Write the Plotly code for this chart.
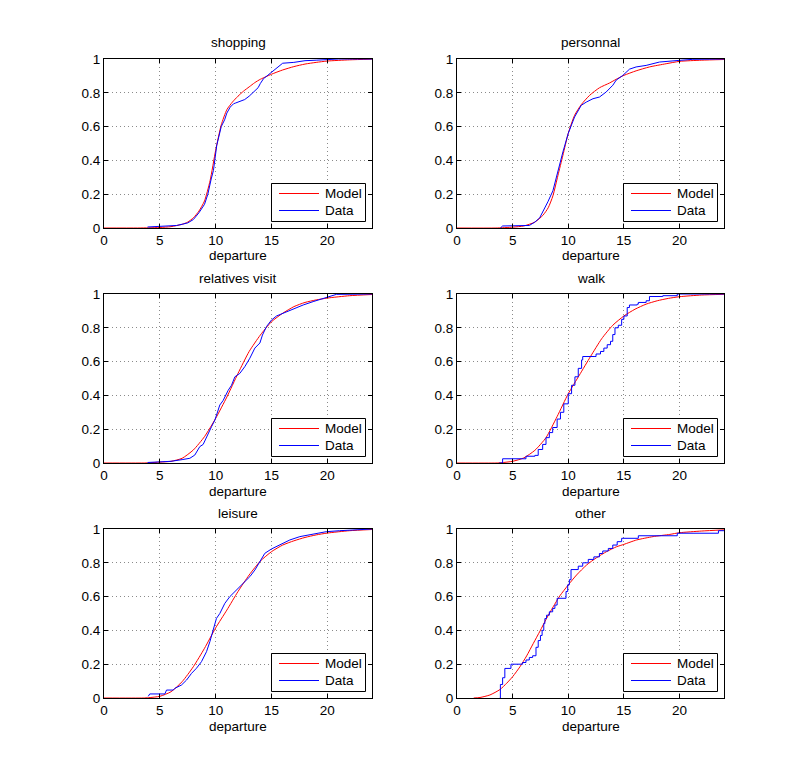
import plotly.graph_objects as go

# ---------------- data ----------------
titles = ["shopping", "personnal", "relatives visit", "walk", "leisure", "other"]
x_label = "departure"

shopping_model_x = [0, 3, 4, 5, 6, 7, 7.5, 8, 8.5, 9, 9.5, 10, 10.5, 11, 11.5, 12, 12.5, 13, 13.5, 14, 14.5, 15, 16, 17, 18, 19, 20, 22, 24]
shopping_model_y = [0, 0, 0.001, 0.003, 0.008, 0.022, 0.035, 0.06, 0.1, 0.16, 0.28, 0.46, 0.61, 0.7, 0.745, 0.78, 0.81, 0.835, 0.86, 0.88, 0.895, 0.91, 0.935, 0.955, 0.97, 0.98, 0.988, 0.995, 0.999]
shopping_data_x = [3.9, 5, 6, 6.5, 7, 7.5, 8, 8.5, 9, 9.3, 9.6, 9.8, 10.1, 10.3, 10.5, 10.8, 11, 11.3, 11.6, 11.8, 12.2, 12.6, 13, 13.4, 13.8, 14, 14.3, 14.6, 15, 15.5, 16, 17, 18, 19, 20, 21, 24]
shopping_data_y = [0.006, 0.008, 0.01, 0.015, 0.022, 0.03, 0.05, 0.09, 0.14, 0.2, 0.29, 0.34, 0.49, 0.55, 0.6, 0.64, 0.68, 0.715, 0.735, 0.74, 0.75, 0.76, 0.78, 0.805, 0.83, 0.855, 0.885, 0.9, 0.92, 0.95, 0.975, 0.98, 0.99, 0.993, 0.996, 1.0, 1.0]

personnal_model_x = [0, 3.5, 5, 6, 7, 7.72, 8.2, 8.62, 9.07, 9.52, 10, 10.57, 11.17, 11.92, 12.81, 13.71, 14.31, 15, 16.1, 17.3, 18.8, 20, 22, 24]
personnal_model_y = [0, 0, 0.005, 0.012, 0.035, 0.075, 0.12, 0.19, 0.31, 0.43, 0.56, 0.667, 0.73, 0.785, 0.83, 0.858, 0.88, 0.903, 0.93, 0.953, 0.972, 0.986, 0.993, 0.997]
personnal_data_x = [3.9, 4.1, 6.5, 7.0, 7.43, 7.72, 8.17, 8.62, 9.07, 9.52, 10, 10.57, 11.17, 11.62, 12.22, 12.81, 13.41, 14.01, 14.31, 14.91, 15.51, 16.1, 17.0, 18.2, 20, 21.2, 24]
personnal_data_y = [0.0, 0.012, 0.015, 0.035, 0.06, 0.095, 0.155, 0.22, 0.34, 0.45, 0.56, 0.657, 0.726, 0.745, 0.765, 0.775, 0.805, 0.845, 0.875, 0.903, 0.94, 0.953, 0.962, 0.982, 0.992, 0.998, 1.0]

relatives_model_x = [0, 3.5, 4, 5, 6, 7, 8, 9, 10, 11, 12, 13, 14, 15, 16, 17, 18, 19, 20, 22, 24]
relatives_model_y = [0, 0, 0.001, 0.005, 0.01, 0.028, 0.077, 0.156, 0.264, 0.39, 0.53, 0.66, 0.757, 0.836, 0.886, 0.925, 0.95, 0.965, 0.976, 0.99, 0.997]
relatives_data_x = [3.9, 5, 6, 7.0, 7.69, 8.13, 8.58, 8.88, 9.18, 9.63, 9.93, 10.37, 10.67, 11.12, 11.42, 11.72, 12.16, 12.61, 13.06, 13.51, 13.96, 14.19, 14.55, 15, 15.45, 16.04, 16.94, 17.84, 18.73, 19.33, 20.22, 20.82, 24]
relatives_data_y = [0.003, 0.006, 0.01, 0.02, 0.028, 0.047, 0.097, 0.11, 0.156, 0.215, 0.254, 0.343, 0.37, 0.43, 0.46, 0.51, 0.53, 0.57, 0.62, 0.68, 0.71, 0.757, 0.807, 0.846, 0.87, 0.886, 0.915, 0.935, 0.955, 0.968, 0.984, 0.998, 1.0]

walk_model_x = [0, 3.5, 4, 5, 6, 7, 8, 9, 10, 11, 12, 13, 14, 15, 16, 17, 18, 19, 20, 22, 24]
walk_model_y = [0, 0, 0.002, 0.01, 0.03, 0.075, 0.15, 0.275, 0.41, 0.52, 0.63, 0.735, 0.815, 0.87, 0.91, 0.94, 0.96, 0.974, 0.984, 0.994, 0.998]
walk_data_x = [3.8, 4.1, 6.2, 7.0, 7.3, 7.7, 8.0, 8.3, 8.6, 9.0, 9.3, 9.6, 10.0, 10.3, 10.6, 10.9, 11.2, 11.3, 12.4, 12.5, 12.9, 13.2, 13.5, 13.8, 14.0, 14.2, 14.5, 14.8, 15.0, 15.3, 15.5, 16.2, 16.3, 17.0, 17.3, 18.5, 19.8, 24]
walk_data_y = [0.0, 0.025, 0.04, 0.045, 0.08, 0.11, 0.15, 0.18, 0.21, 0.26, 0.3, 0.35, 0.41, 0.46, 0.51, 0.56, 0.61, 0.63, 0.63, 0.645, 0.66, 0.68, 0.7, 0.72, 0.76, 0.8, 0.815, 0.85, 0.87, 0.92, 0.935, 0.94, 0.95, 0.96, 0.985, 0.99, 1.0, 1.0]

leisure_model_x = [0, 3.5, 4, 5, 6, 7, 8, 9, 10, 11, 12, 13, 14, 15, 16, 17, 18, 19, 20, 22, 24]
leisure_model_y = [0, 0, 0.002, 0.01, 0.037, 0.097, 0.185, 0.294, 0.415, 0.52, 0.63, 0.728, 0.81, 0.866, 0.905, 0.93, 0.95, 0.965, 0.976, 0.99, 0.997]
leisure_data_x = [3.96, 4.1, 5.45, 5.6, 6.2, 6.34, 6.94, 7.39, 7.84, 8.28, 8.73, 9.18, 9.48, 9.78, 10.07, 10.37, 10.82, 11.27, 11.72, 12.16, 12.61, 13.06, 13.51, 13.96, 14.4, 15, 15.75, 16.64, 17.54, 18.73, 19.9, 21.1, 24]
leisure_data_y = [0.01, 0.024, 0.024, 0.047, 0.047, 0.057, 0.077, 0.106, 0.146, 0.176, 0.215, 0.274, 0.333, 0.412, 0.471, 0.5, 0.56, 0.6, 0.63, 0.66, 0.69, 0.718, 0.757, 0.807, 0.856, 0.882, 0.905, 0.935, 0.955, 0.97, 0.984, 0.99, 1.0]

other_model_x = [1.5, 2.07, 2.96, 3.86, 4.46, 5, 5.66, 6.26, 6.86, 7.46, 8.05, 8.65, 9.25, 10, 10.75, 11.65, 12.54, 13.44, 14.34, 15, 16.14, 17.63, 19.13, 20, 22, 24]
other_model_y = [0, 0.003, 0.018, 0.05, 0.087, 0.126, 0.185, 0.249, 0.323, 0.396, 0.471, 0.54, 0.605, 0.669, 0.728, 0.787, 0.83, 0.866, 0.895, 0.909, 0.935, 0.955, 0.968, 0.978, 0.988, 0.995]
other_data_x = [3.85, 3.9, 4.1, 4.3, 4.85, 5.9, 6.2, 6.5, 6.8, 7.1, 7.3, 7.5, 7.65, 7.8, 7.9, 8.05, 8.3, 8.6, 8.8, 9.0, 9.8, 9.95, 10.1, 10.25, 10.9, 11.3, 11.8, 12.3, 12.8, 13.1, 13.6, 14.0, 14.4, 14.8, 16.3, 19.8, 23.5, 24]
other_data_y = [0.0, 0.08, 0.12, 0.175, 0.2, 0.21, 0.225, 0.24, 0.25, 0.3, 0.34, 0.37, 0.4, 0.44, 0.47, 0.49, 0.51, 0.53, 0.55, 0.59, 0.63, 0.67, 0.7, 0.76, 0.78, 0.8, 0.82, 0.835, 0.855, 0.87, 0.885, 0.905, 0.925, 0.945, 0.96, 0.975, 0.99, 0.99]

x_tick_vals = [0, 5, 10, 15, 20]
y_tick_vals = [0, 0.2, 0.4, 0.6, 0.8, 1]
y_tick_text = ["0", "0.2", "0.4", "0.6", "0.8", "1"]
series_names = ["Model", "Data"]
series_colors = ["#ff0000", "#0000ff"]

panels = [
    (shopping_model_x, shopping_model_y, shopping_data_x, shopping_data_y, "linear"),
    (personnal_model_x, personnal_model_y, personnal_data_x, personnal_data_y, "linear"),
    (relatives_model_x, relatives_model_y, relatives_data_x, relatives_data_y, "linear"),
    (walk_model_x, walk_model_y, walk_data_x, walk_data_y, "hv"),
    (leisure_model_x, leisure_model_y, leisure_data_x, leisure_data_y, "linear"),
    (other_model_x, other_model_y, other_data_x, other_data_y, "hv"),
]

# ---------------- layout geometry (pixels) ----------------
W, H = 800, 784
col_px = [(104, 372), (457, 724)]
row_px = [(59, 228), (294, 463), (529, 698)]
FONT = "Liberation Sans, Arial, Helvetica, sans-serif"
FS = 13.5


def px(xp):
    return xp / W


def py(yp):
    return 1 - yp / H


fig = go.Figure()
annotations = []
shapes = []
layout = dict(
    width=W, height=H, margin=dict(l=0, r=0, t=0, b=0, autoexpand=False),
    paper_bgcolor="white", plot_bgcolor="white",
    font=dict(family=FONT, size=FS, color="black"),
    showlegend=False,
)

for i, (mx, my, dx, dy, dshape) in enumerate(panels):
    r, c = divmod(i, 2)
    x0, x1 = col_px[c]
    ytop, ybot = row_px[r]
    n = i + 1
    xa = "x" if n == 1 else f"x{n}"
    ya = "y" if n == 1 else f"y{n}"
    fig.add_trace(go.Scatter(x=mx, y=my, mode="lines", name=series_names[0],
                             line=dict(color=series_colors[0], width=1, shape="spline", smoothing=0.6),
                             xaxis=xa, yaxis=ya))
    fig.add_trace(go.Scatter(x=dx, y=dy, mode="lines", name=series_names[1],
                             line=dict(color=series_colors[1], width=1, shape=dshape),
                             xaxis=xa, yaxis=ya))
    axcommon = dict(showline=True, linecolor="black", linewidth=1, mirror="ticks",
                    ticks="inside", ticklen=4, tickcolor="black", tickwidth=1,
                    showgrid=True, gridcolor="#8a8a8a", griddash="1px,3px", gridwidth=1,
                    zeroline=False, automargin=False,
                    tickfont=dict(family=FONT, size=FS, color="black"))
    xkey = "xaxis" if n == 1 else f"xaxis{n}"
    ykey = "yaxis" if n == 1 else f"yaxis{n}"
    layout[xkey] = dict(axcommon, domain=[px(x0), px(x1)], range=[0, 24],
                        tickvals=x_tick_vals, anchor=ya)
    layout[ykey] = dict(axcommon, domain=[py(ybot), py(ytop)], range=[0, 1],
                        tickvals=y_tick_vals, ticktext=y_tick_text, anchor=xa)
    # subplot title
    annotations.append(dict(text=titles[i], x=px((x0 + x1) / 2), y=py(ytop - 16),
                            xref="paper", yref="paper", xanchor="center", yanchor="middle",
                            showarrow=False, font=dict(family=FONT, size=FS, color="black")))
    # x axis label
    annotations.append(dict(text=x_label, x=px((x0 + x1) / 2), y=py(ybot + 28),
                            xref="paper", yref="paper", xanchor="center", yanchor="middle",
                            showarrow=False, font=dict(family=FONT, size=FS, color="black")))
    # legend box (MATLAB style)
    shapes.append(dict(type="rect", xref="paper", yref="paper",
                       x0=px(x1 - 100.5), x1=px(x1 - 6.5), y0=py(ybot - 6.5), y1=py(ybot - 44.5),
                       line=dict(color="black", width=1), fillcolor="white", layer="above"))
    for k in range(2):
        yy = ybot - 34.5 + 17 * k
        shapes.append(dict(type="line", xref="paper", yref="paper",
                           x0=px(x1 - 93), x1=px(x1 - 53), y0=py(yy), y1=py(yy),
                           line=dict(color=series_colors[k], width=1), layer="above"))
        annotations.append(dict(text=series_names[k], x=px(x1 - 49), y=py(yy),
                                xref="paper", yref="paper", xanchor="left", yanchor="middle",
                                showarrow=False, font=dict(family=FONT, size=FS, color="black")))

layout["annotations"] = annotations
layout["shapes"] = shapes
fig.update_layout(**layout)
fig.write_html("out.html", config={"displayModeBar": False},
               post_script="document.body.style.margin='0px';document.body.style.padding='0px';")
